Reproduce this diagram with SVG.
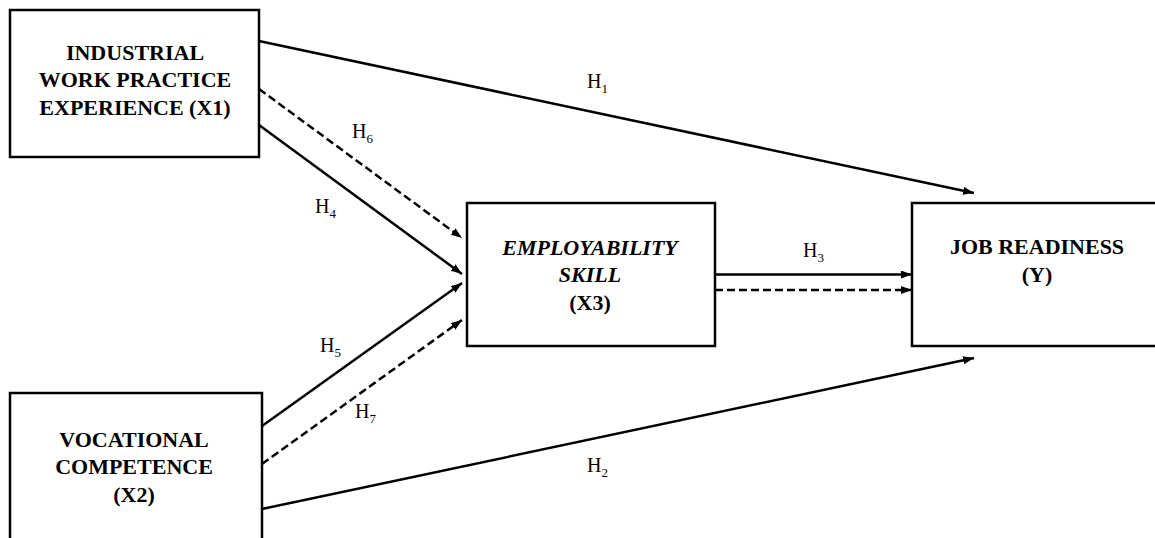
<svg xmlns="http://www.w3.org/2000/svg" width="1155" height="538" viewBox="0 0 1155 538">
<style>
.box{fill:#fff;stroke:#000;stroke-width:2.5}
.t{font-family:"Liberation Serif","Times New Roman",serif;font-size:22px;font-weight:bold;text-anchor:middle;fill:#000}
.it{font-style:italic}
.c{stroke:#000;stroke-width:2.5;fill:none;marker-end:url(#ah)}
.d{stroke-dasharray:8 4}
.h{font-family:"Liberation Serif","Times New Roman",serif;font-size:20px;fill:#000}
.s{font-size:13px}
</style>
<defs>
<marker id="ah" markerUnits="userSpaceOnUse" markerWidth="12" markerHeight="10" refX="11" refY="4" orient="auto">
<path d="M0,0 L11,4 L0,8 Z" fill="#000"/>
</marker>
</defs>
<g id="connectors">
<line class="c" x1="259" y1="41" x2="974" y2="193"/>
<line class="c d" x1="259" y1="89" x2="462" y2="238"/>
<line class="c" x1="259" y1="125" x2="462" y2="274"/>
<line class="c" x1="262" y1="426" x2="462" y2="283"/>
<line class="c d" x1="262" y1="464" x2="462" y2="320"/>
<line class="c" x1="262" y1="509" x2="974" y2="358"/>
<line class="c" x1="715" y1="274.5" x2="912" y2="274.5"/>
<line class="c d" x1="715" y1="290" x2="912" y2="290"/>
<text class="h" x="587" y="88">H<tspan class="s" dy="5">1</tspan></text>
<text class="h" x="352" y="138">H<tspan class="s" dy="5">6</tspan></text>
<text class="h" x="315" y="213">H<tspan class="s" dy="5">4</tspan></text>
<text class="h" x="320" y="352">H<tspan class="s" dy="5">5</tspan></text>
<text class="h" x="355" y="418">H<tspan class="s" dy="5">7</tspan></text>
<text class="h" x="587" y="472">H<tspan class="s" dy="5">2</tspan></text>
<text class="h" x="803" y="257">H<tspan class="s" dy="5">3</tspan></text>
</g>
<g id="x1">
<rect class="box" x="10" y="10" width="249" height="147"/>
<text class="t" x="135" y="60">INDUSTRIAL</text>
<text class="t" x="135" y="87">WORK PRACTICE</text>
<text class="t" x="135" y="115">EXPERIENCE (X1)</text>
</g>
<g id="x2">
<rect class="box" x="10" y="393" width="252" height="160"/>
<text class="t" x="134" y="447">VOCATIONAL</text>
<text class="t" x="134" y="474">COMPETENCE</text>
<text class="t" x="134" y="502">(X2)</text>
</g>
<g id="x3">
<rect class="box" x="467" y="203" width="248" height="143"/>
<text class="t it" x="590" y="255">EMPLOYABILITY</text>
<text class="t it" x="590" y="282">SKILL</text>
<text class="t" x="590" y="310">(X3)</text>
</g>
<g id="y">
<rect class="box" x="912" y="203" width="260" height="143"/>
<text class="t" x="1037" y="254">JOB READINESS</text>
<text class="t" x="1037" y="282">(Y)</text>
</g>
</svg>
